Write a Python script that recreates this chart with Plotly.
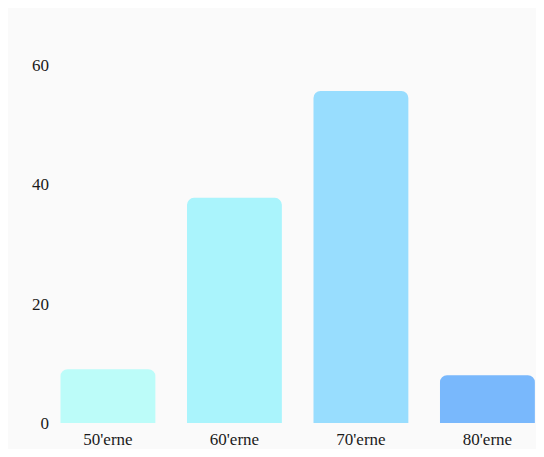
import plotly.graph_objects as go

categories = ["50'erne", "60'erne", "70'erne", "80'erne"]
values = [9, 37.7, 55.6, 8]
colors = ["#bcfcf9", "#aaf4fc", "#98ddfe", "#79b8fc"]

fig = go.Figure()
fig.add_trace(go.Bar(
    x=categories, y=values,
    marker=dict(color=colors, line=dict(width=0), cornerradius=7),
    hoverinfo="skip",
))

fig.update_layout(
    width=528, height=441,
    margin=dict(l=42, r=0, t=22, b=26),
    paper_bgcolor="#fafafa",
    plot_bgcolor="#fafafa",
    bargap=0.25,
    showlegend=False,
    font=dict(family="Liberation Serif", size=17, color="#1a1a1a"),
    xaxis=dict(range=[-0.458, 3.384], showgrid=False, zeroline=False,
               showline=False, ticks="", tickfont=dict(size=17),
               ticklabelstandoff=4),
    yaxis=dict(range=[0, 65.8], tickvals=[0, 20, 40, 60], showgrid=False,
               zeroline=False, showline=False, ticks="", tickfont=dict(size=17)),
)

fig.write_html("out.html")
